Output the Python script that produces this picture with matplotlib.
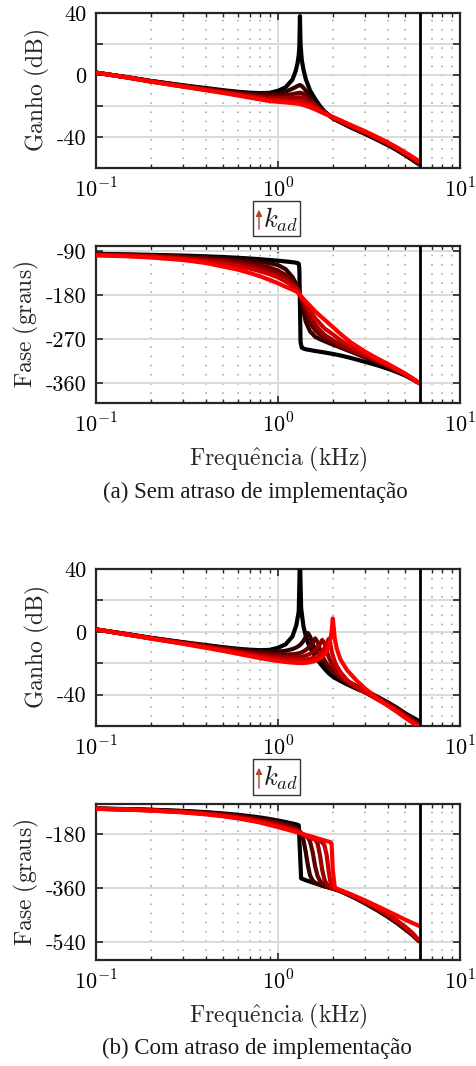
import numpy as np
import matplotlib
matplotlib.use("Agg")
import matplotlib.pyplot as plt
from matplotlib.patches import Rectangle
from matplotlib.ticker import LogLocator, NullFormatter

plt.rcParams['mathtext.fontset'] = 'cm'
plt.rcParams['axes.unicode_minus'] = False

# ---------------- data (frequency in kHz) ----------------
f_a = [0.1, 0.15, 0.2, 0.3, 0.4, 0.5, 0.6, 0.7, 0.8, 0.9,
       1.0, 1.1, 1.2, 1.25, 1.28, 1.3, 1.31, 1.32, 1.33, 1.35,
       1.38, 1.42, 1.5, 1.6, 1.7, 1.8, 2.0, 2.2, 2.5, 3.0,
       3.5, 4.0, 4.5, 5.0, 5.5, 6.0]

gain_a_k0 = [1.5, -1.5, -3.8, -6.6, -8.4, -9.8, -10.8, -11.4, -11.7, -11.5,
             -10.2, -8.0, -3.0, 2.5, 7.5, 13.0, 18.0, 38.0, 20.0, 10.0,
             3.5, -2.5, -10.0, -15.5, -20.0, -23.5, -28.0, -30.5, -33.8, -38.0,
             -41.8, -45.2, -48.5, -51.8, -55.0, -58.0]
gain_a_k1 = [1.5, -1.5, -3.9, -6.8, -8.7, -10.2, -11.3, -12.0, -12.3, -12.3,
             -12.0, -10.8, -8.8, -7.8, -7.1, -6.8, -6.6, -6.5, -6.6, -7.1,
             -8.2, -10.0, -14.0, -18.0, -21.3, -23.8, -27.8, -30.2, -33.4, -37.6,
             -41.4, -44.8, -48.1, -51.3, -54.5, -57.5]
gain_a_k2 = [1.5, -1.6, -4.0, -7.0, -9.0, -10.6, -11.8, -12.7, -13.3, -13.6,
             -13.8, -13.2, -12.3, -11.9, -11.7, -11.6, -11.55, -11.5, -11.5, -11.7,
             -12.3, -13.3, -15.8, -19.0, -21.8, -24.0, -27.6, -30.0, -33.2, -37.3,
             -41.1, -44.5, -47.8, -51.0, -54.1, -57.1]
gain_a_k3 = [1.5, -1.6, -4.1, -7.2, -9.3, -11.0, -12.4, -13.5, -14.3, -14.8,
             -15.0, -14.9, -14.6, -14.5, -14.4, -14.4, -14.4, -14.4, -14.4, -14.6,
             -15.0, -15.7, -17.4, -19.8, -22.2, -24.3, -27.5, -29.8, -32.9, -37.0,
             -40.8, -44.2, -47.5, -50.7, -53.8, -56.8]
gain_a_k4 = [1.5, -1.7, -4.2, -7.4, -9.6, -11.3, -12.8, -14.0, -15.1, -15.8,
             -16.3, -16.5, -16.6, -16.7, -16.7, -16.8, -16.8, -16.8, -16.9, -17.0,
             -17.3, -17.8, -19.0, -20.9, -22.8, -24.6, -27.4, -29.5, -32.5, -36.6,
             -40.4, -43.8, -47.1, -50.3, -53.4, -56.3]
gain_a_k5 = [1.5, -1.7, -4.3, -7.5, -9.8, -11.6, -13.2, -14.6, -15.8, -16.8,
             -17.3, -17.7, -18.1, -18.3, -18.5, -18.6, -18.7, -18.8, -18.9, -19.1,
             -19.4, -19.9, -20.8, -22.2, -23.6, -24.9, -27.0, -29.2, -32.2, -36.2,
             -40.0, -43.4, -46.7, -49.9, -52.9, -55.8]

phase_a_k0 = [-96, -97, -98, -99.5, -101, -102.5, -104, -105.5, -107, -108.5,
              -110, -111.5, -113, -114, -114.8, -116, -125, -200, -276, -287,
              -289, -290.5, -292, -294, -295.5, -297, -300, -303, -308, -316,
              -323, -330, -337, -344, -352, -360]
phase_a_k1 = [-97, -98, -99, -101, -103, -105, -107, -109.5, -112, -115,
              -119, -127, -143, -155, -164, -172, -176, -180, -185, -195,
              -212, -234, -254, -265, -270, -274, -281, -287, -295, -307,
              -317, -326, -334.5, -343, -351.5, -360]
phase_a_k2 = [-97.5, -98.7, -100, -102.7, -105.5, -108.5, -111.5, -115, -119, -124,
              -130, -139, -152, -160, -167, -172.5, -176, -180, -183.5, -190,
              -201, -215, -237, -252, -261, -268, -277, -284, -293, -305,
              -315.5, -325, -334, -342.5, -351, -360]
phase_a_k3 = [-98, -99.5, -101, -104.5, -108, -112, -116, -120.5, -125.5, -131,
              -137.5, -146, -157, -163.5, -168.5, -173, -176.5, -180, -182.5, -187,
              -194, -204, -223, -240, -252, -261, -272, -281, -291, -303.5,
              -314, -324, -333.5, -342, -351, -360]
phase_a_k4 = [-98.5, -100.2, -102, -106.3, -111, -116, -121, -126, -131.5, -137.5,
              -144, -152, -161, -166, -170, -174, -177, -180, -182, -185.5,
              -190, -197, -211, -227, -238, -248, -260, -272, -285, -300,
              -312, -322.5, -332.5, -341.5, -350.5, -360]
phase_a_k5 = [-99, -101, -103.5, -108.5, -114.5, -122, -128, -135, -142, -149,
              -156, -163, -169, -172, -174.5, -176.5, -178, -180, -181.5, -184,
              -188, -193, -202, -213, -222, -230, -245, -259, -276, -295,
              -309, -320, -330.5, -340, -350, -360]

f_b = [0.1, 0.15, 0.2, 0.3, 0.4, 0.5, 0.6, 0.7, 0.8, 0.9,
       1.0, 1.1, 1.2, 1.26, 1.3, 1.32, 1.34, 1.38, 1.42, 1.46,
       1.5, 1.55, 1.6, 1.65, 1.7, 1.75, 1.8, 1.85, 1.9, 1.94,
       1.97, 2.0, 2.05, 2.1, 2.2, 2.4, 2.7, 3.0, 3.5, 4.0,
       4.5, 5.0, 5.5, 6.0]

gain_b_k0 = [1.5, -1.5, -3.8, -6.6, -8.4, -9.8, -10.8, -11.4, -11.7, -11.5,
             -10.2, -8.0, -3.0, 4.0, 13.0, 48.0, 15.0, 3.5, -2.5, -7.0,
             -10.0, -13.2, -15.5, -17.8, -20.0, -21.8, -23.5, -25.0, -26.4, -27.3,
             -27.9, -28.5, -29.3, -30.0, -31.3, -33.5, -36.3, -38.5, -42.0, -45.3,
             -48.6, -51.9, -54.6, -57.0]
gain_b_k1 = [1.5, -1.6, -3.9, -6.8, -8.7, -10.1, -11.2, -12.0, -12.5, -12.7,
             -12.6, -12.1, -11.0, -10.0, -9.0, -8.4, -7.7, -5.8, -3.3, -0.8,
             -3.0, -7.5, -11.3, -14.3, -16.7, -18.6, -20.2, -21.6, -22.9, -23.9,
             -24.6, -25.3, -26.3, -27.2, -28.8, -31.4, -34.5, -37.2, -41.2, -44.8,
             -48.3, -52.0, -55.3, -58.2]
gain_b_k2 = [1.5, -1.7, -4.0, -7.0, -9.0, -10.6, -11.9, -12.9, -13.6, -14.1,
             -14.4, -14.5, -14.3, -14.0, -13.7, -13.5, -13.2, -12.5, -11.6, -10.5,
             -9.2, -7.0, -4.2, -6.5, -11.2, -15.0, -18.0, -20.3, -22.2, -23.5,
             -24.4, -25.2, -26.5, -27.6, -29.5, -32.3, -35.5, -38.0, -42.0, -45.6,
             -49.1, -52.8, -56.1, -58.9]
gain_b_k3 = [1.5, -1.8, -4.1, -7.2, -9.4, -11.1, -12.6, -13.8, -14.7, -15.4,
             -15.9, -16.2, -16.3, -16.2, -16.1, -16.0, -15.9, -15.6, -15.2, -14.6,
             -14.0, -13.0, -11.7, -10.0, -7.8, -5.2, -7.2, -12.0, -16.0, -18.6,
             -20.3, -21.8, -23.8, -25.4, -28.0, -31.8, -35.5, -38.3, -42.5, -46.2,
             -49.8, -53.5, -56.9, -59.6]
gain_b_k4 = [1.5, -1.8, -4.2, -7.4, -9.8, -11.6, -13.2, -14.6, -15.7, -16.6,
             -17.2, -17.7, -18.0, -18.1, -18.1, -18.1, -18.1, -18.0, -17.8, -17.5,
             -17.2, -16.7, -16.0, -15.1, -14.0, -12.5, -10.5, -7.8, -4.5, -8.0,
             -12.0, -15.0, -18.8, -21.6, -25.6, -30.8, -35.3, -38.5, -43.0, -46.8,
             -50.5, -54.2, -57.6, -60.2]
gain_b_k5 = [1.5, -1.9, -4.3, -7.6, -10.2, -12.2, -14.0, -15.5, -16.8, -17.8,
             -18.6, -19.2, -19.6, -19.8, -19.9, -19.9, -19.9, -19.9, -19.8, -19.6,
             -19.4, -19.0, -18.5, -17.8, -17.0, -15.8, -14.3, -12.3, -9.3, -5.0,
             0.0, 8.5, -4.0, -10.5, -17.5, -24.5, -31.0, -36.0, -42.3, -47.0,
             -51.0, -54.8, -58.0, -61.0]

phase_b_k0 = [-95, -97, -99, -103, -107, -111.5, -116, -120.5, -125, -130,
              -135, -140, -145, -148, -151, -240, -328, -331, -334, -336.5,
              -339, -342, -344.5, -347, -349.5, -352, -354, -356, -358, -359.5,
              -360.5, -362, -364, -366, -371, -381, -396, -411, -434, -456,
              -477, -498, -518, -540]
phase_b_k1 = [-95.5, -97.5, -99.7, -104, -108.5, -113.5, -118.5, -123.5, -128.5, -134,
              -139.5, -145, -151, -158, -168, -175, -184, -200, -240, -285,
              -318, -335, -342.5, -346.5, -349.5, -352.5, -354.5, -356.5, -358.5, -360,
              -361, -362, -364, -366, -370.5, -380.5, -395, -409.5, -432, -454,
              -475, -496, -516.5, -539]
phase_b_k2 = [-95.5, -98, -100.5, -105, -110, -115.5, -121, -126.5, -132, -138,
              -144, -150, -157, -162, -167, -172, -177, -182, -186, -192,
              -205, -240, -288, -320, -336, -345, -350.5, -354.5, -357.5, -359.5,
              -360.5, -361.5, -363.5, -365.5, -370, -379.5, -394, -408, -430, -452,
              -473, -494, -515, -538.5]
phase_b_k3 = [-96, -98, -101, -106, -111.5, -117.5, -123.5, -129.5, -136, -142.5,
              -149, -155.5, -162, -166.5, -170, -173.5, -177.5, -182, -185, -188,
              -190.5, -194, -199, -212, -250, -300, -332, -347, -354, -357.5,
              -359.5, -361, -363, -365, -369.5, -378.5, -392.5, -406.5, -428, -449.5,
              -470.5, -491.5, -513, -538]
phase_b_k4 = [-96, -98.5, -101.5, -107, -113, -119.5, -126, -132.5, -139, -146,
              -153, -160, -166, -170, -173, -175.5, -178.5, -183, -186.5, -189.5,
              -192, -195, -198, -201, -204, -208, -218, -250, -305, -340,
              -353, -359, -362.5, -364.5, -369, -377.5, -391, -405, -426, -447,
              -468, -489, -511, -537.5]
phase_b_k5 = [-96, -99, -102, -108, -114.5, -121, -128, -135, -142, -150,
              -157, -164, -170, -173.5, -175.5, -177, -178.5, -181, -183, -185,
              -187, -189.5, -192, -194.5, -197, -199.5, -201.5, -203.5, -205.5, -207,
              -212, -300, -358, -362, -367, -376, -389, -401, -420, -437,
              -452, -465.5, -477, -487]

f_nyquist = 6.0
gain_ticks = [-60, -40, -20, 0, 20, 40]
gain_labels = ['', '-40', '', '0', '', '40']
phase_a_ticks = [-360, -270, -180, -90]
phase_b_ticks = [-540, -360, -180]
x_ticks = [0.1, 1, 10]
x_labels = [r'$10^{-1}$', r'$10^{0}$', r'$10^{1}$']

gain_a = [gain_a_k0, gain_a_k1, gain_a_k2, gain_a_k3, gain_a_k4, gain_a_k5]
phase_a = [phase_a_k0, phase_a_k1, phase_a_k2, phase_a_k3, phase_a_k4, phase_a_k5]
gain_b = [gain_b_k0, gain_b_k1, gain_b_k2, gain_b_k3, gain_b_k4, gain_b_k5]
phase_b = [phase_b_k0, phase_b_k1, phase_b_k2, phase_b_k3, phase_b_k4, phase_b_k5]

n_curves = 6
colors = [(i / (n_curves - 1), 0.0, 0.0) for i in range(n_curves)]

# ---------------- figure ----------------
W, H = 477, 1066
fig = plt.figure(figsize=(W / 100, H / 100), dpi=100)


def ax_at(left, top, right, bottom):
    return fig.add_axes([left / W, 1 - bottom / H, (right - left) / W, (bottom - top) / H])


TICKFONT = 'cmr10'


def style(ax, ylim, yticks, ylabels, ylabel, xlabel=None, ylab_x=-0.16):
    ax.set_xscale('log')
    ax.set_xlim(0.1, 10)
    ax.set_ylim(*ylim)
    ax.set_xticks(x_ticks)
    ax.set_xticklabels(x_labels)
    ax.xaxis.set_minor_locator(LogLocator(base=10, subs=range(2, 10)))
    ax.xaxis.set_minor_formatter(NullFormatter())
    ax.set_yticks(yticks)
    ax.set_yticklabels(ylabels, fontfamily=TICKFONT)
    ax.set_axisbelow(True)
    ax.grid(which='major', axis='both', color='0.86', lw=1.4, ls='-')
    ax.grid(which='minor', axis='x', color='0.62', lw=1.1, ls=(0, (1, 5)))
    ax.tick_params(which='both', direction='in', top=True, right=True,
                   labelsize=16, color='0.15')
    ax.tick_params(which='major', length=5, width=1.2, pad=7)
    ax.tick_params(which='minor', length=3, width=1.0)
    for s in ax.spines.values():
        s.set_linewidth(1.6)
        s.set_color('0.15')
    ax.set_ylabel(ylabel, fontsize=17, color='0.15')
    ax.yaxis.set_label_coords(ylab_x, 0.5)
    if xlabel:
        ax.set_xlabel(xlabel, fontsize=17, color='0.15', labelpad=6)
    ax.axvline(f_nyquist, color='k', lw=2.0, zorder=5)


def draw(ax, f, series):
    for vals, c in zip(series, colors):
        ax.plot(f, vals, color=c, lw=3.0, solid_capstyle='butt',
                solid_joinstyle='round', zorder=3)


ax1 = ax_at(96, 13, 460, 168)
draw(ax1, f_a, gain_a)
style(ax1, (-60, 40), gain_ticks, gain_labels, r'$\mathrm{Ganho\ (dB)}$', ylab_x=-0.12)

ax2 = ax_at(96, 246, 460, 403)
draw(ax2, f_a, phase_a)
style(ax2, (-400, -80), phase_a_ticks, [str(t) for t in phase_a_ticks],
      r'$\mathrm{Fase\ (graus)}$', xlabel=r'$\mathrm{Frequ\hat{e}ncia\ (kHz)}$', ylab_x=-0.15)

ax3 = ax_at(96, 569, 460, 726)
draw(ax3, f_b, gain_b)
style(ax3, (-60, 40), gain_ticks, gain_labels, r'$\mathrm{Ganho\ (dB)}$', ylab_x=-0.12)

ax4 = ax_at(96, 804, 460, 960)
draw(ax4, f_b, phase_b)
style(ax4, (-600, -80), phase_b_ticks, [str(t) for t in phase_b_ticks],
      r'$\mathrm{Fase\ (graus)}$', xlabel=r'$\mathrm{Frequ\hat{e}ncia\ (kHz)}$', ylab_x=-0.15)


def kad_box(top, bottom):
    left, right = 253, 300
    fig.add_artist(Rectangle((left / W, 1 - bottom / H), (right - left) / W, (bottom - top) / H,
                             transform=fig.transFigure, fill=False, lw=1.0, ec='0.2'))
    xa = 259
    fig.add_artist(matplotlib.patches.FancyArrowPatch(
        (xa / W, 1 - (bottom - 4) / H), (xa / W, 1 - (top + 6) / H),
        transform=fig.transFigure, arrowstyle='-|>', mutation_scale=9,
        color='#b0452c', lw=1.0))
    fig.text(263 / W, 1 - ((top + bottom) / 2 + 1) / H, r'$k_{ad}$', fontsize=19,
             ha='left', va='center', color='0.1')


kad_box(201, 236)
kad_box(759, 795)

fig.text(255 / W, 1 - 492 / H, '(a) Sem atraso de implementação', fontsize=16.5,
         family='Liberation Serif', ha='center', va='center', color='0.1')
fig.text(257 / W, 1 - 1048 / H, '(b) Com atraso de implementação', fontsize=16.5,
         family='Liberation Serif', ha='center', va='center', color='0.1')

fig.savefig('out.png', dpi=100)
